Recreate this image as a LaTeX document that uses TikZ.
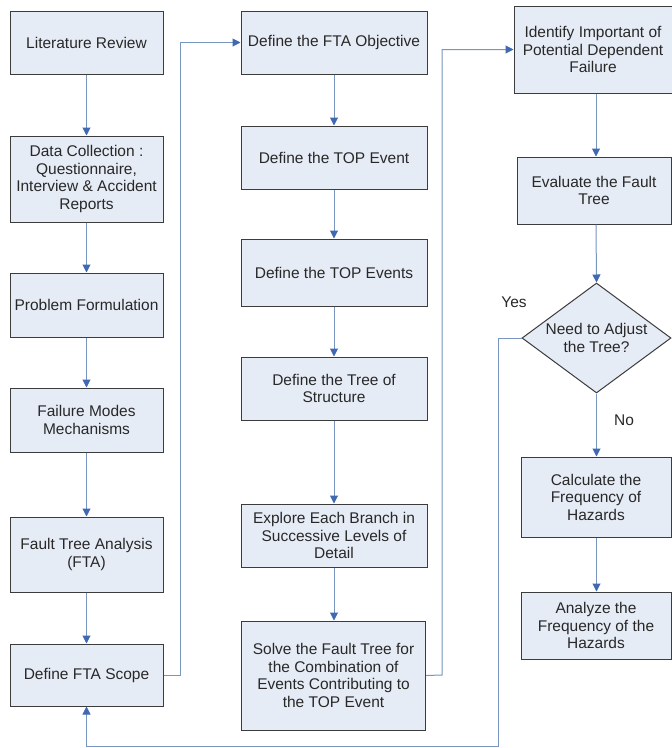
\documentclass[tikz,border=0pt]{standalone}
\usepackage{fontspec}
\setmainfont{Liberation Sans}
\usetikzlibrary{arrows.meta,shapes.geometric}
\definecolor{boxfill}{RGB}{230,236,246}
\definecolor{boxline}{RGB}{60,60,60}
\definecolor{linkline}{RGB}{120,150,192}
\definecolor{tipcol}{RGB}{65,105,178}
\definecolor{txt}{RGB}{40,40,40}
\begin{document}
\begin{tikzpicture}[x=1pt,y=-1pt,
  box/.style={draw=boxline, fill=boxfill, line width=1pt, align=center, text=txt,
    font=\fontsize{15.5}{17.5}\selectfont, inner sep=1pt},
  sz/.style 2 args={minimum width=#1pt, minimum height=#2pt},
  dec/.style={box, diamond, inner sep=0pt, aspect=1.35},
  link/.style={draw=linkline, line width=1pt, -{Triangle[length=8pt,width=8pt,color=tipcol]}},
  lbl/.style={text=txt, font=\fontsize{15.5}{17.5}\selectfont, inner sep=0pt}]
\fill[white] (0,0) rectangle (672,748);
\useasboundingbox (0,0) rectangle (672,748);

% column 1
\node[box, sz={153}{63}] (lit) at (86.5,42.5) {Literature Review};
\node[box, sz={153}{86}] (data) at (86.5,179) {Data Collection :\\Questionnaire,\\Interview \& Accident\\Reports};
\node[box, sz={153}{64}] (prob) at (86.5,305) {Problem Formulation};
\node[box, sz={153}{64}] (fail) at (86.5,420) {Failure Modes\\Mechanisms};
\node[box, sz={153}{75}] (fta) at (86.5,554.5) {Fault Tree Analysis\\(FTA)};
\node[box, sz={153}{62}] (scope) at (86.5,675) {Define FTA Scope};

% column 2
\node[box, sz={186}{63}] (obj) at (334,42.5) {Define the FTA Objective};
\node[box, sz={186}{63}] (top1) at (334,157.5) {Define the TOP Event};
\node[box, sz={186}{67}] (top2) at (334,272.5) {Define the TOP Events};
\node[box, sz={186}{63}] (tree) at (334,388.5) {Define the Tree of\\Structure};
\node[box, sz={186}{63}] (expl) at (334,535.5) {Explore Each Branch in\\Successive Levels of\\Detail};
\node[box, sz={184}{109}] (solve) at (333.5,675.5) {Solve the Fault Tree for\\the Combination of\\Events Contributing to\\the TOP Event};

% column 3
\node[box, sz={158}{87}] (ident) at (593,49.5) {Identify Important of\\Potential Dependent\\Failure};
\node[box, sz={154}{67}] (eval) at (594,190.5) {Evaluate the Fault\\Tree};
\node[dec, minimum width=149pt, minimum height=110pt] (dia) at (596.5,338) {Need to Adjust\\the Tree?};
\node[box, sz={150}{80}] (calc) at (596,497) {Calculate the\\Frequency of\\Hazards};
\node[box, sz={150}{67}] (anal) at (596,625.5) {Analyze the\\Frequency of the\\Hazards};

\node[lbl] (yes) at (514,302) {Yes};
\node[lbl] (no) at (624,420) {No};

% connectors column 1
\draw[link] (lit) -- (data);
\draw[link] (data) -- (prob);
\draw[link] (prob) -- (fail);
\draw[link] (fail) -- (fta);
\draw[link] (fta) -- (scope);

% column 2
\draw[link] (obj) -- (top1);
\draw[link] (top1) -- (top2);
\draw[link] (top2) -- (tree);
\draw[link] (tree) -- (expl);
\draw[link] (expl.south) -- (expl.south |- solve.north);

% column 3
\draw[link] (ident.south -| 596,0) -- (eval.north -| 596,0);
\draw[link] (eval.south -| 596,0) -- (dia.north);
\draw[link] (dia.south) -- (calc.north -| dia.south);
\draw[link] (calc.south -| dia.south) -- (anal.north -| dia.south);

% cross connectors
\coordinate (j1) at (180,675);
\draw[link] (scope.east) -- (j1) |- (obj.west);
\coordinate (j2) at (442,675);
\draw[link] (solve.east) -- (j2) |- (ident.west);
\coordinate (j3) at (498,338);
\coordinate (j4) at (498,746.5);
\draw[link] (dia.west) -- (j3) -- (j4) -| (scope.south);
\end{tikzpicture}
\end{document}
